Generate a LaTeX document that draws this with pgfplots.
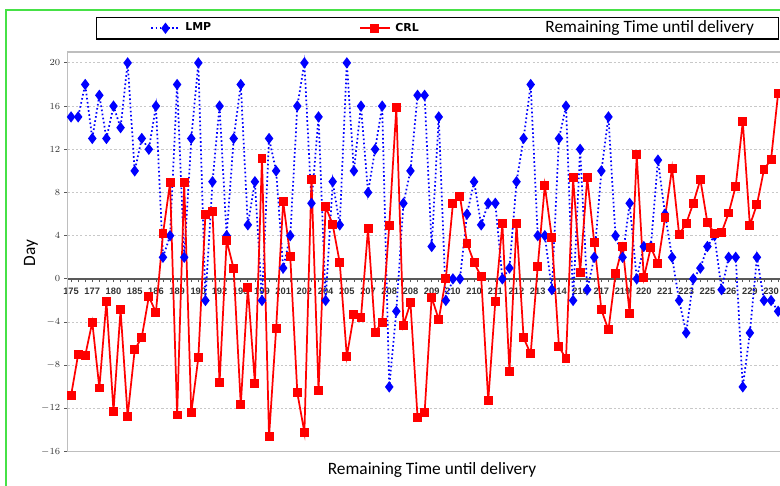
\documentclass[border=0pt]{standalone}
\usepackage{pgfplots}
\pgfplotsset{compat=1.18}
\usepackage{fontspec}
\setmainfont{Carlito}
\newfontfamily\tickfont{Liberation Sans}
\newfontfamily\legfont{DejaVu Sans}
\definecolor{framegray}{RGB}{190,190,190}
\definecolor{gridgray}{RGB}{200,200,200}
\definecolor{outergreen}{RGB}{70,225,70}
\definecolor{lmpblue}{RGB}{0,0,255}
\definecolor{crlred}{RGB}{255,0,0}
\pgfplotsset{
  lmpleg/.style={legend image code/.code={\path (-40.5pt,0pt); \draw[##1,mark repeat=2,mark phase=2] plot coordinates {(0pt,0pt) (10.5pt,0pt) (21pt,0pt)};}},
  crlleg/.style={legend image code/.code={\draw[##1,mark repeat=2,mark phase=2] plot coordinates {(0pt,0pt) (11pt,0pt) (22pt,0pt)};}},
}
\begin{document}
\begin{tikzpicture}
\useasboundingbox (0,0) rectangle (585pt,363.75pt);
\draw[outergreen, line width=1.1pt] (4.5pt,-5pt) -- (4.5pt,356.25pt) -- (600pt,356.25pt);
\begin{axis}[
  at={(50.65pt,24.98pt)}, anchor=south west,
  scale only axis, width=535.6pt, height=299.7pt,
  xmin=-0.5, xmax=100.5, ymin=-16, ymax=21,
  axis x line=middle, axis y line=left,
  axis line style={-},
  x axis line style={black!65, line width=1.1pt},
  y axis line style={framegray, line width=1.2pt},
  xtick={0,3,...,99},
  xticklabels={175,177,180,185,186,189,190,192,195,199,201,202,204,205,207,208,208,209,210,210,211,212,213,214,216,217,219,220,221,223,225,226,229,230},
  minor xtick={0,...,100},
  ytick={-16,-12,...,20},
  tick align=outside,
  major tick length=2.5pt, minor tick length=2.5pt,
  x tick style={black!65, line width=0.6pt},
  y tick style={black!65, line width=0.6pt},
  tick label style={font=\tickfont\bfseries\fontsize{7}{8}\selectfont, text=black!80},
  xticklabel style={yshift=-0.5pt},
  yticklabel style={xshift=0.5pt},
  ymajorgrids,
  grid style={gridgray, line width=0.8pt, dash pattern=on 1.6pt off 1.6pt},
  every axis y label/.style={at={(axis description cs:-0.0511,0.497)}, rotate=90, anchor=center, font=\fontsize{13}{15}\selectfont},
  every axis x label/.style={at={(axis description cs:0.5105,-0.0458)}, anchor=center, font=\fontsize{13}{15}\selectfont},
  ylabel={Day},
  xlabel={Remaining Time until delivery},
  clip=false,
  legend columns=3,
  legend style={at={(0.0399,1.0878)}, anchor=north west, draw=black, line width=0.9pt,
    inner xsep=0pt, inner ysep=2.5pt,
    nodes={inner sep=0pt, text depth=0.2em},
    /tikz/every odd column/.append style={column sep=3.75pt},
    /tikz/every even column/.append style={column sep=0pt}},
]
\draw[framegray, line width=1.2pt] (rel axis cs:0,0) rectangle (rel axis cs:1,1);
\addplot[lmpblue, line width=1.3pt, dash pattern=on 1.2pt off 1.9pt,
  mark=diamond*, mark size=3.2pt, mark options={solid, fill=lmpblue}, lmpleg]
coordinates {
(0,15)(1,15)(2,18)(3,13)(4,17)(5,13)(6,16)(7,14)(8,20)(9,10)
(10,13)(11,12)(12,16)(13,2)(14,4)(15,18)(16,2)(17,13)(18,20)(19,-2)
(20,9)(21,16)(22,4)(23,13)(24,18)(25,5)(26,9)(27,-2)(28,13)(29,10)
(30,1)(31,4)(32,16)(33,20)(34,7)(35,15)(36,-2)(37,9)(38,5)(39,20)
(40,10)(41,16)(42,8)(43,12)(44,16)(45,-10)(46,-3)(47,7)(48,10)(49,17)
(50,17)(51,3)(52,15)(53,-2)(54,0)(55,0)(56,6)(57,9)(58,5)(59,7)
(60,7)(61,0)(62,1)(63,9)(64,13)(65,18)(66,4)(67,4)(68,-1)(69,13)
(70,16)(71,-2)(72,12)(73,-1)(74,2)(75,10)(76,15)(77,4)(78,2)(79,7)
(80,0)(81,3)(82,3)(83,11)(84,6)(85,2)(86,-2)(87,-5)(88,0)(89,1)
(90,3)(91,4)(92,-1)(93,2)(94,2)(95,-10)(96,-5)(97,2)(98,-2)(99,-2)
(100,-3)
};
\addlegendentry{\makebox[130.5pt][l]{\legfont\bfseries\fontsize{8.2}{10}\selectfont LMP}}
\addplot[crlred, line width=1.3pt, mark=square*, mark size=2.7pt, mark options={solid, fill=crlred}, crlleg]
coordinates {
(0,-10.8)(1,-7.0)(2,-7.1)(3,-4.0)(4,-10.1)(5,-2.07)(6,-12.25)(7,-2.87)(8,-12.7)(9,-6.57)
(10,-5.4)(11,-1.64)(12,-3.09)(13,4.17)(14,8.9)(15,-12.6)(16,8.9)(17,-12.4)(18,-7.3)(19,5.96)
(20,6.2)(21,-9.63)(22,3.55)(23,0.93)(24,-11.67)(25,-0.83)(26,-9.66)(27,11.17)(28,-14.6)(29,-4.63)
(30,7.16)(31,2.07)(32,-10.56)(33,-14.2)(34,9.2)(35,-10.34)(36,6.7)(37,5.03)(38,1.5)(39,-7.16)
(40,-3.33)(41,-3.6)(42,4.63)(43,-4.94)(44,-4.0)(45,4.94)(46,15.83)(47,-4.32)(48,-2.22)(49,-12.8)
(50,-12.4)(51,-1.7)(52,-3.77)(53,0)(54,6.94)(55,7.65)(56,3.3)(57,1.5)(58,0.2)(59,-11.27)
(60,-2.07)(61,5.1)(62,-8.58)(63,5.1)(64,-5.46)(65,-6.94)(66,1.14)(67,8.64)(68,3.8)(69,-6.27)
(70,-7.4)(71,9.35)(72,0.62)(73,9.35)(74,3.33)(75,-2.87)(76,-4.72)(77,0.46)(78,3.02)(79,-3.18)
(80,11.48)(81,0.1)(82,2.93)(83,1.39)(84,5.7)(85,10.25)(86,4.1)(87,5.15)(88,7.0)(89,9.2)
(90,5.19)(91,4.23)(92,4.3)(93,6.1)(94,8.58)(95,14.57)(96,4.97)(97,6.88)(98,10.12)(99,11.08)
(100,17.2)
};
\addlegendentry{\makebox[108.75pt][l]{\legfont\bfseries\fontsize{8.2}{10}\selectfont CRL}}
\addlegendimage{empty legend}
\addlegendentry{\makebox[174.75pt][l]{\fontsize{13}{15}\selectfont Remaining Time until delivery}}
\end{axis}
\end{tikzpicture}
\end{document}
